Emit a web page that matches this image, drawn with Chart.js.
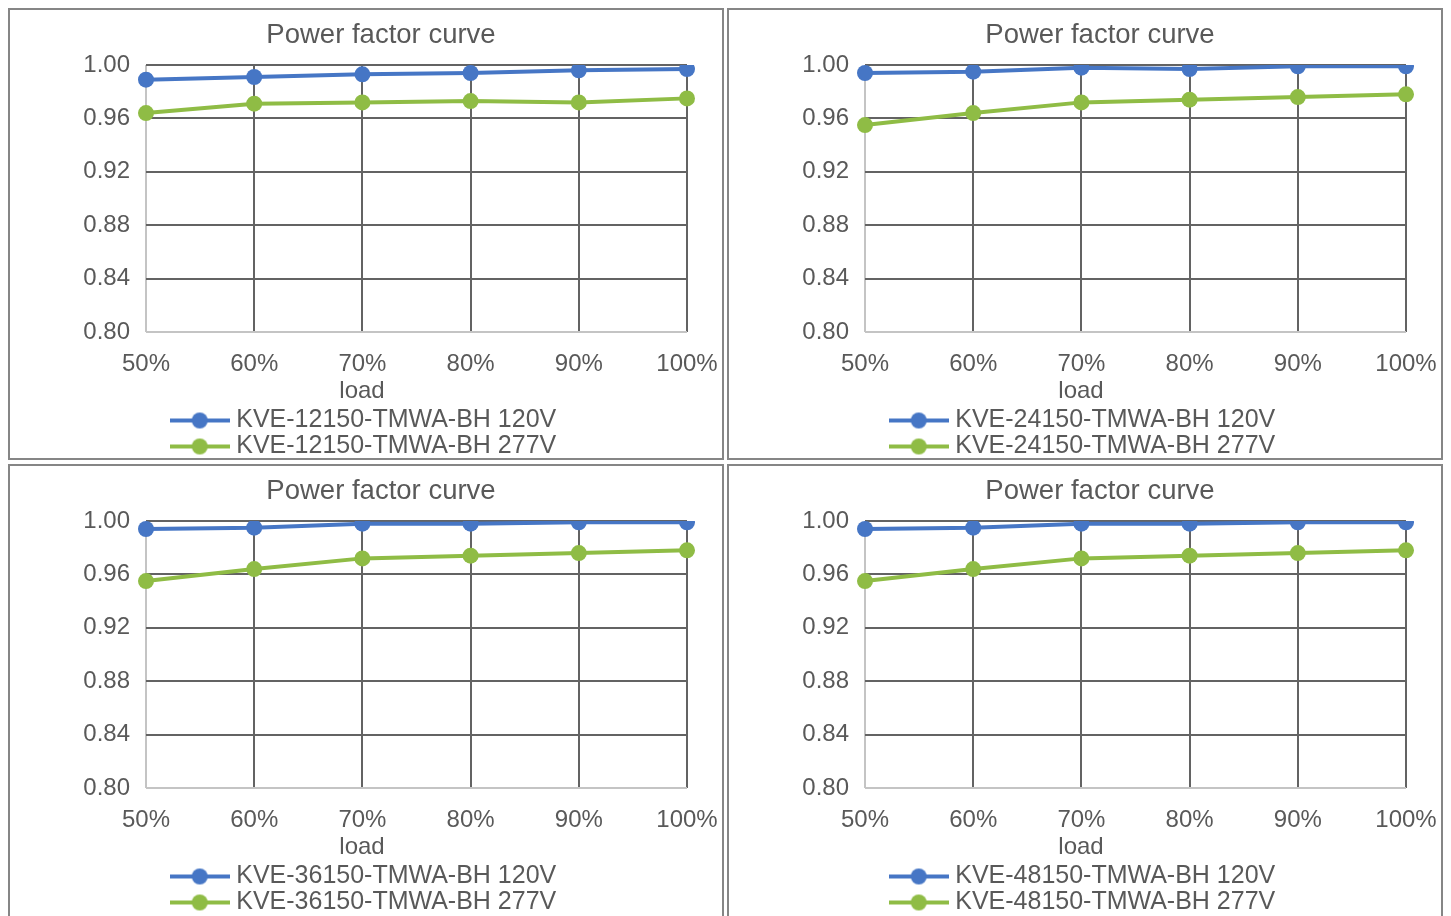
<!DOCTYPE html>
<html>
<head>
<meta charset="utf-8">
<script src="https://cdn.jsdelivr.net/npm/chart.js@4.4.0/dist/chart.umd.min.js"></script>
<style>
  html, body { margin: 0; padding: 0; background: #ffffff; width: 1451px; height: 916px; overflow: hidden; }
  .panel { position: absolute; box-sizing: border-box; border: 2px solid #868686; background: #fff; }
  .panel canvas { display: block; }
</style>
</head>
<body>
<div class="panel" id="p1" style="left:8px; top:8px; width:716px; height:452px;"><canvas id="c1" width="712" height="448"></canvas></div>
<div class="panel" id="p2" style="left:727px; top:8px; width:716px; height:452px;"><canvas id="c2" width="712" height="448"></canvas></div>
<div class="panel" id="p3" style="left:8px; top:464px; width:716px; height:460px;"><canvas id="c3" width="712" height="448"></canvas></div>
<div class="panel" id="p4" style="left:727px; top:464px; width:716px; height:460px;"><canvas id="c4" width="712" height="448"></canvas></div>
<script>
// ---- data ----
const loadLabels = ['50%', '60%', '70%', '80%', '90%', '100%'];
const chartTitle = 'Power factor curve';
const xAxisTitle = 'load';
const yMin = 0.80, yMax = 1.00, yStep = 0.04;
const models = ['KVE-12150-TMWA-BH', 'KVE-24150-TMWA-BH', 'KVE-36150-TMWA-BH', 'KVE-48150-TMWA-BH'];
const voltages = ['120V', '277V'];
const pf12150_120V = [0.989, 0.991, 0.993, 0.994, 0.996, 0.997];
const pf12150_277V = [0.964, 0.971, 0.972, 0.973, 0.972, 0.975];
const pf24150_120V = [0.994, 0.995, 0.998, 0.997, 0.999, 0.999];
const pf24150_277V = [0.955, 0.964, 0.972, 0.974, 0.976, 0.978];
const pf36150_120V = [0.994, 0.995, 0.998, 0.998, 0.999, 0.999];
const pf36150_277V = [0.955, 0.964, 0.972, 0.974, 0.976, 0.978];
const pf48150_120V = [0.994, 0.995, 0.998, 0.998, 0.999, 0.999];
const pf48150_277V = [0.955, 0.964, 0.972, 0.974, 0.976, 0.978];
const seriesByChart = [
  [pf12150_120V, pf12150_277V],
  [pf24150_120V, pf24150_277V],
  [pf36150_120V, pf36150_277V],
  [pf48150_120V, pf48150_277V]
];

// ---- style ----
const FONT = '"Liberation Sans", Arial, sans-serif';
const TEXT = '#595959';
const GRID_DARK = '#636363';
const GRID_LIGHT = '#c4c4c4';
const COLORS = ['#4676c5', '#8fbc45'];

function legendImage(color) {
  const c = document.createElement('canvas');
  c.width = 60; c.height = 20;
  const g = c.getContext('2d');
  g.strokeStyle = color; g.lineWidth = 4;
  g.beginPath(); g.moveTo(0, 10); g.lineTo(60, 10); g.stroke();
  g.fillStyle = color;
  g.beginPath(); g.arc(30, 10, 8, 0, Math.PI * 2); g.fill();
  return c;
}
const legendImgs = COLORS.map(legendImage);

const textPlugin = {
  id: 'excelText',
  afterDraw(chart) {
    const ctx = chart.ctx;
    const ca = chart.chartArea;
    ctx.save();
    ctx.fillStyle = TEXT;
    ctx.textAlign = 'center';
    ctx.textBaseline = 'middle';
    ctx.font = '27.5px ' + FONT;
    ctx.fillText(chartTitle, chart.width / 2 + 15, 25);
    ctx.font = '24px ' + FONT;
    ctx.fillText(xAxisTitle, chart.width / 2 - 4, ca.bottom + 59);
    ctx.restore();
  }
};

function makeChart(canvasId, idx) {
  const series = seriesByChart[idx];
  const datasets = series.map((vals, i) => ({
    label: models[idx] + ' ' + voltages[i],
    data: vals,
    borderColor: COLORS[i],
    backgroundColor: COLORS[i],
    borderWidth: 4,
    pointRadius: 8,
    pointHoverRadius: 8,
    pointBorderWidth: 0,
    tension: 0
  }));
  return new Chart(document.getElementById(canvasId), {
    type: 'line',
    data: { labels: loadLabels, datasets },
    plugins: [textPlugin],
    options: {
      responsive: false,
      animation: false,
      events: [],
      layout: { padding: { top: 55, left: 0, right: 0, bottom: -11 } },
      plugins: {
        title: { display: false },
        tooltip: { enabled: false },
        legend: {
          display: true,
          position: 'bottom',
          labels: {
            usePointStyle: true,
            pointStyleWidth: 48,
            padding: 1,
            color: TEXT,
            font: { family: FONT, size: 25 },
            generateLabels(chart) {
              const items = Chart.defaults.plugins.legend.labels.generateLabels(chart);
              items.forEach((it, i) => { it.pointStyle = legendImgs[i]; });
              return items;
            }
          }
        }
      },
      scales: {
        x: {
          offset: false,
          grid: {
            display: true,
            drawTicks: false,
            lineWidth: 2,
            color: (c) => (c.index === 0 ? GRID_LIGHT : GRID_DARK)
          },
          border: { display: false },
          ticks: { color: TEXT, font: { family: FONT, size: 24 }, padding: 18, maxRotation: 0, autoSkip: false },
          afterFit(scale) { scale.height = 75; scale.paddingRight = 35; }
        },
        y: {
          min: yMin,
          max: yMax,
          grid: {
            display: true,
            drawTicks: false,
            lineWidth: 2,
            color: (c) => (c.tick && c.tick.value <= yMin + 1e-9 ? GRID_LIGHT : GRID_DARK)
          },
          border: { display: false },
          ticks: {
            stepSize: yStep,
            color: TEXT,
            font: { family: FONT, size: 24 },
            padding: 16,
            callback: (v) => Number(v).toFixed(2)
          },
          afterFit(scale) { scale.width = 136; }
        }
      }
    }
  });
}

makeChart('c1', 0);
makeChart('c2', 1);
makeChart('c3', 2);
makeChart('c4', 3);
</script>
</body>
</html>
